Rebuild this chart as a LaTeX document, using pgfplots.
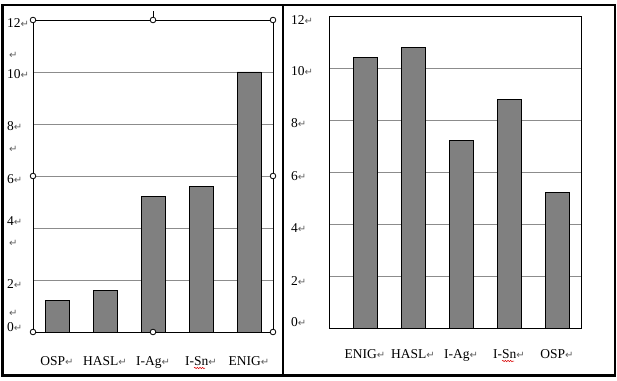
\documentclass[border=0pt]{standalone}
\usepackage{pgfplots}
\pgfplotsset{compat=1.18}
\usepackage{fontspec}
\setmainfont{Liberation Serif}
\newfontfamily\symfont{DejaVu Sans}
\usetikzlibrary{decorations.pathmorphing}
\definecolor{barfill}{RGB}{128,128,128}
\definecolor{gridc}{RGB}{140,140,140}
\definecolor{retc}{RGB}{95,95,95}
\newcommand\ret{{\color{retc}\symfont\fontsize{10}{10}\selectfont ↵}}
\newcommand\lbl{\fontsize{13.5}{15}\selectfont}
\pgfplotsset{
  mybars/.style={
    scale only axis, height=312pt,
    ymin=0, ymax=12, ytick={2,4,6,8,10}, yticklabels={},
    ymajorgrids, grid style={gridc, line width=0.8pt},
    major tick length=0pt,
    axis line style={black, line width=0.8pt},
    xtick={0,1,2,3,4},
    xticklabel style={font=\lbl, anchor=base, inner sep=0pt},
    clip=false,
  },
  mybar/.style={ybar, bar width=24pt, bar shift=0pt, fill=barfill, draw=black, line width=0.8pt},
}
\begin{document}
\begin{tikzpicture}
\path[use as bounding box] (0pt,0pt) rectangle (617pt,380pt);
% left chart
\begin{axis}[mybars, width=240pt, xmin=-0.5, xmax=4.5,
  at={(33pt,48pt)}, anchor=south west,
  xticklabels={OSP\ret, HASL\ret, I-Ag\ret, I-Sn\ret, ENIG\ret},
  xticklabel style={yshift=-33pt}]
\addplot[mybar] coordinates {(0,1.2) (1,1.6) (2,5.2) (3,5.6) (4,10.0)};
\end{axis}
% right chart
\begin{axis}[mybars, width=252pt, xmin=-0.75, xmax=4.5,
  at={(329pt,52pt)}, anchor=south west,
  xticklabels={ENIG\ret, HASL\ret, I-Ag\ret, I-Sn\ret, OSP\ret},
  xticklabel style={yshift=-30pt}]
\addplot[mybar] coordinates {(0,10.4) (1,10.8) (2,7.2) (3,8.8) (4,5.2)};
\end{axis}
\begin{scope}[x=1pt, y=-1pt, yshift=380pt]
  % outer table frame
  \draw[line width=2.6pt] (2.5,5) rectangle (615,375.5);
  \draw[line width=2.4pt] (283,5) -- (283,375.5);
  % left y labels
  \foreach \v/\yy in {12/28, 10/79, 8/131, 6/184, 4/226, 2/288, 0/331}
    \node[anchor=base west, inner sep=0pt, font=\lbl] at (7,\yy) {\v\ret};
  \foreach \yy in {59, 153, 246, 316}
    \node[anchor=base west, inner sep=0pt] at (9,\yy) {\ret};
  % right y labels
  \foreach \v/\yy in {12/25, 10/76, 8/128, 6/181, 4/233, 2/285, 0/326}
    \node[anchor=base west, inner sep=0pt, font=\lbl] at (291,\yy) {\v\ret};
  % selection handles on left chart
  \draw[line width=0.8pt] (153,11.5) -- (153,17.5);
  \foreach \px/\py in {33/20, 153/20, 273/20, 33/176, 273/176, 33/332, 153/332, 273/332}
    \draw[line width=0.8pt, fill=white] (\px,\py) circle (2.8);
  % spell-check wavy underlines
  \draw[red!85!black, line width=0.5pt, decorate, decoration={snake, amplitude=0.7pt, segment length=2.6pt}] (194,368) -- (205,368);
  \draw[red!85!black, line width=0.5pt, decorate, decoration={snake, amplitude=0.7pt, segment length=2.6pt}] (502,361) -- (514,361);
\end{scope}
\end{tikzpicture}
\end{document}
